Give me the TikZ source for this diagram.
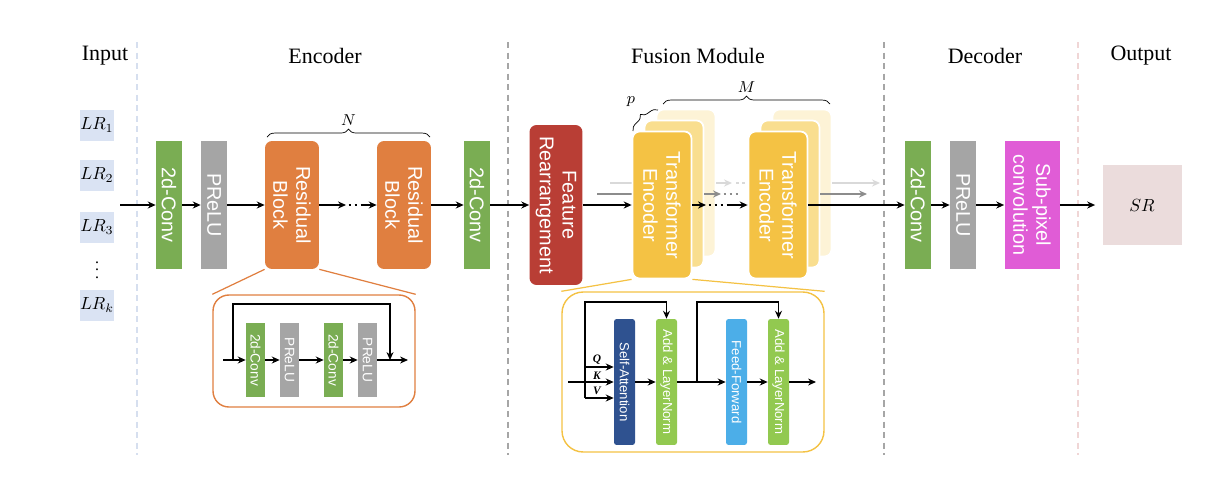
\documentclass[tikz,border=0pt]{standalone}
\usepackage{fontspec}
\setmainfont{Liberation Serif}
\setsansfont{Liberation Sans}
\usetikzlibrary{arrows.meta, decorations.pathreplacing, backgrounds}

\definecolor{convgreen}{HTML}{7AAD53}
\definecolor{prelugray}{HTML}{A5A5A5}
\definecolor{resorange}{HTML}{E07F40}
\definecolor{featred}{HTML}{B93E35}
\definecolor{teyellow}{HTML}{F4C244}
\definecolor{teyellowb}{HTML}{F9DE8F}
\definecolor{teyellowc}{HTML}{FDF3D6}
\definecolor{subpink}{HTML}{E05CD6}
\definecolor{srpink}{HTML}{EBDCDC}
\definecolor{lrblue}{HTML}{DAE3F3}
\definecolor{attblue}{HTML}{2F5290}
\definecolor{normgreen}{HTML}{92C950}
\definecolor{ffblue}{HTML}{4CAEE8}
\definecolor{sepblue}{HTML}{D6DFEF}
\definecolor{sepgray}{HTML}{A6A6A6}
\definecolor{seppink}{HTML}{F0D6D6}
\definecolor{arrgray}{HTML}{8C8C8C}
\definecolor{arrlight}{HTML}{D9D9D9}

\tikzset{
  head/.style={font=\fontsize{12.5}{14}\selectfont},
  sep/.style={line width=0.8pt, dash pattern=on 3.5pt off 2.5pt},
  lr/.style={fill=lrblue, inner sep=0pt, minimum width=0.64cm, minimum height=0.62cm,
    font=\fontsize{10}{11}\selectfont},
  blk/.style={rotate=-90, inner sep=0pt, align=center, text=white,
    font=\sffamily\fontsize{11.3}{13}\selectfont},
  conv/.style={blk, fill=convgreen, minimum width=2.56cm, minimum height=0.52cm},
  prelu/.style={blk, fill=prelugray, minimum width=2.56cm, minimum height=0.52cm},
  resblk/.style={blk, fill=resorange, rounded corners=4pt, minimum width=2.56cm, minimum height=1.08cm},
  feat/.style={blk, fill=featred, rounded corners=4pt, minimum width=3.2cm, minimum height=1.06cm},
  te/.style={blk, fill=teyellow, draw=white, line width=1pt, rounded corners=4pt,
    minimum width=2.94cm, minimum height=1.18cm},
  teb/.style={te, fill=teyellowb},
  tec/.style={te, fill=teyellowc},
  subpix/.style={blk, fill=subpink, minimum width=2.56cm, minimum height=1.1cm},
  srbox/.style={fill=srpink, minimum width=1.58cm, minimum height=1.6cm,
    font=\fontsize{10}{11}\selectfont},
  sblk/.style={blk, minimum width=1.48cm, minimum height=0.38cm,
    font=\sffamily\fontsize{7.8}{9}\selectfont},
  tblk/.style={blk, rounded corners=1.5pt, minimum width=2.52cm, minimum height=0.42cm,
    font=\sffamily\fontsize{7.5}{9}\selectfont},
  detbox/.style={thick, fill=white, inner sep=0pt},
  arr/.style={->, thick},
  sarr/.style={->, semithick},
  garr/.style={->, thick, arrgray},
  larr/.style={->, thick, arrlight},
  dotline/.style={thick, dash pattern=on 1.6pt off 1.8pt},
  brace/.style={decorate, decoration={brace, amplitude=4.5pt}},
  mathlbl/.style={font=\fontsize{9}{10}\selectfont},
  qkv/.style={font=\fontsize{6.5}{7}\selectfont\bfseries\itshape, inner sep=0pt}
}

\begin{document}
\begin{tikzpicture}[x=0.02cm, y=-0.02cm, >={Stealth[length=4.5pt,width=4pt]}]
\useasboundingbox (0,0) rectangle (1228,484);

% column titles
\node[head] (tIn) at (105,56) {Input};
\node[head] (tEnc) at (325,56) {Encoder};
\node[head] (tFus) at (698,56) {Fusion Module};
\node[head] (tDec) at (985,56) {Decoder};
\node[head] (tOut) at (1141,56) {Output};

% separators
\draw[sep, sepblue] (137,42) -- (137,455);
\draw[sep, sepgray] (508,42) -- (508,455);
\draw[sep, sepgray] (884,42) -- (884,455);
\draw[sep, seppink] (1078,42) -- (1078,455);

% input frames
\node[lr] (lr1) at (97,125) {$LR_1$};
\node[lr] (lr2) at (97,175) {$LR_2$};
\node[lr] (lr3) at (97,227) {$LR_3$};
\node[mathlbl, inner sep=0pt] (lrdots) at (97,265) {$\vdots$};
\node[lr] (lrk) at (97,305) {$LR_k$};

% encoder
\coordinate (inp) at (120,205);
\node[conv] (ec1) at (169,205) {2d-Conv};
\node[prelu] (ep) at (214,205) {PReLU};
\node[resblk] (res1) at (292,205) {Residual\\Block};
\node[resblk] (res2) at (404,205) {Residual\\Block};
\node[conv] (ec2) at (477,205) {2d-Conv};
\coordinate (rd1) at (346,205);
\coordinate (rd2) at (361,205);
\draw[arr] (inp) -- (ec1);
\draw[arr] (ec1) -- (ep);
\draw[arr] (ep) -- (res1);
\draw[arr] (res1) -- (rd1);
\draw[dotline, shorten <=1.5pt] (rd1) -- (rd2);
\draw[arr] (rd2) -- (res2);
\draw[arr] (res2) -- (ec2);
\draw[brace] (267,137) -- (430,137) node[midway, above=3pt, mathlbl] (lblN) {$N$};

% residual block inside
\node[detbox, draw=resorange, minimum width=4.04cm, minimum height=2.24cm, rounded corners=9pt] (resdet) at (314,351) {};
\draw[resorange, line width=0.7pt] (res1.south east) -- (resdet.north west);
\draw[resorange, line width=0.7pt] (res1.north east) -- (resdet.north east);
\node[sblk, fill=convgreen] (sc1) at (255.5,360) {2d-Conv};
\node[sblk, fill=prelugray] (sp1) at (289.5,360) {PReLU};
\node[sblk, fill=convgreen] (sc2) at (333.5,360) {2d-Conv};
\node[sblk, fill=prelugray] (sp2) at (367.5,360) {PReLU};
\coordinate (rin) at (223,360);
\coordinate (rsplit) at (233,360);
\coordinate (rjoin) at (390,360);
\coordinate (rout) at (408,360);
\draw[sarr] (rin) -- (sc1);
\draw[sarr] (sc1) -- (sp1);
\draw[sarr] (sp1) -- (sc2);
\draw[sarr] (sc2) -- (sp2);
\draw[sarr] (sp2) -- (rout);
\draw[sarr] (rsplit) -- ++(0,-56) -| (rjoin);

% fusion module
\node[feat] (feat) at (556,205) {Feature\\Rearrangement};
\node[tec] (te1c) at (686,183) {};
\node[teb] (te1b) at (674,194) {};
\node[te] (te1) at (662,205) {Transformer\\Encoder};
\node[tec] (te2c) at (802,183) {};
\node[teb] (te2b) at (790,194) {};
\node[te] (te2) at (778,205) {Transformer\\Encoder};
\coordinate (gin) at (597,194);
\coordinate (lin) at (610,183);
\begin{scope}[on background layer]
  \draw[garr] (gin) -- (te1b);
  \draw[larr] (lin) -- (te1c);
\end{scope}
\coordinate (td1) at (706,205);
\coordinate (td2) at (728,205);
\coordinate (g1) at (721,194);
\coordinate (g1e) at (739,194);
\coordinate (l1) at (732,183);
\coordinate (l1e) at (747,183);
\coordinate (g2) at (867,194);
\coordinate (l2) at (880,183);
\draw[arr] (ec2) -- (feat);
\draw[arr] (feat) -- (te1);
\draw[arr] (te1) -- (td1);
\draw[dotline, shorten <=1.5pt] (td1) -- (td2);
\draw[arr] (td2) -- (te2);
\draw[garr] (te1b) -- (g1);
\draw[dotline, arrgray, shorten <=1.5pt] (g1) -- (g1e);
\draw[larr] (te1c) -- (l1);
\draw[dotline, arrlight, shorten <=2.5pt] (l1) -- (l1e);
\draw[garr] (te2b) -- (g2);
\draw[larr] (te2c) -- (l2);
\draw[brace] (663,104) -- (830,104) node[midway, above=3pt, mathlbl] (lblM) {$M$};
\draw[brace] (633,131) -- (658,110);
\node[mathlbl] (lblp) at (631,102) {$p$};

% transformer encoder inside
\node[detbox, draw=teyellow, minimum width=5.24cm, minimum height=3.2cm, rounded corners=12pt] (tedet) at (693,372) {};
\draw[teyellow, line width=0.7pt] (te1.south east) -- (tedet.north west);
\draw[teyellow, line width=0.7pt] (te1.north east) -- (tedet.north east);
\node[tblk, fill=attblue] (sa) at (624.5,382) {Self-Attention};
\node[tblk, fill=normgreen] (an1) at (666.5,382) {Add \& LayerNorm};
\node[tblk, fill=ffblue] (ff) at (736.5,382) {Feed-Forward};
\node[tblk, fill=normgreen] (an2) at (778.5,382) {Add \& LayerNorm};
\coordinate (tin) at (568,382);
\coordinate (tq) at (585,367);
\coordinate (tv) at (585,398);
\coordinate (ttop) at (585,302);
\coordinate (tb2) at (697,382);
\coordinate (tout) at (816,382);
\draw[sarr] (tin) -- (sa);
\draw[sarr] (tq) -- (tq -| sa.south);
\draw[sarr] (tv) -- (tv -| sa.south);
\draw[sarr] (tv) -- (ttop) -| (an1.west);
\draw[sarr] (sa) -- (an1);
\draw[sarr] (an1) -- (ff);
\draw[sarr] (tb2) -- ++(0,-80) -| (an2.west);
\draw[sarr] (ff) -- (an2);
\draw[sarr] (an2) -- (tout);
\node[qkv] (lq) at (597,360) {Q};
\node[qkv] (lk) at (597,376) {K};
\node[qkv] (lv) at (597,391) {V};

% decoder and output
\node[conv] (dc1) at (918,205) {2d-Conv};
\node[prelu] (dp) at (963,205) {PReLU};
\node[subpix] (sub) at (1032,205) {Sub-pixel\\convolution};
\node[srbox] (sr) at (1142,205) {$SR$};
\draw[arr] (te2) -- (dc1);
\draw[arr] (dc1) -- (dp);
\draw[arr] (dp) -- (sub);
\draw[arr, shorten >=4pt] (sub) -- (sr);
\end{tikzpicture}
\end{document}
